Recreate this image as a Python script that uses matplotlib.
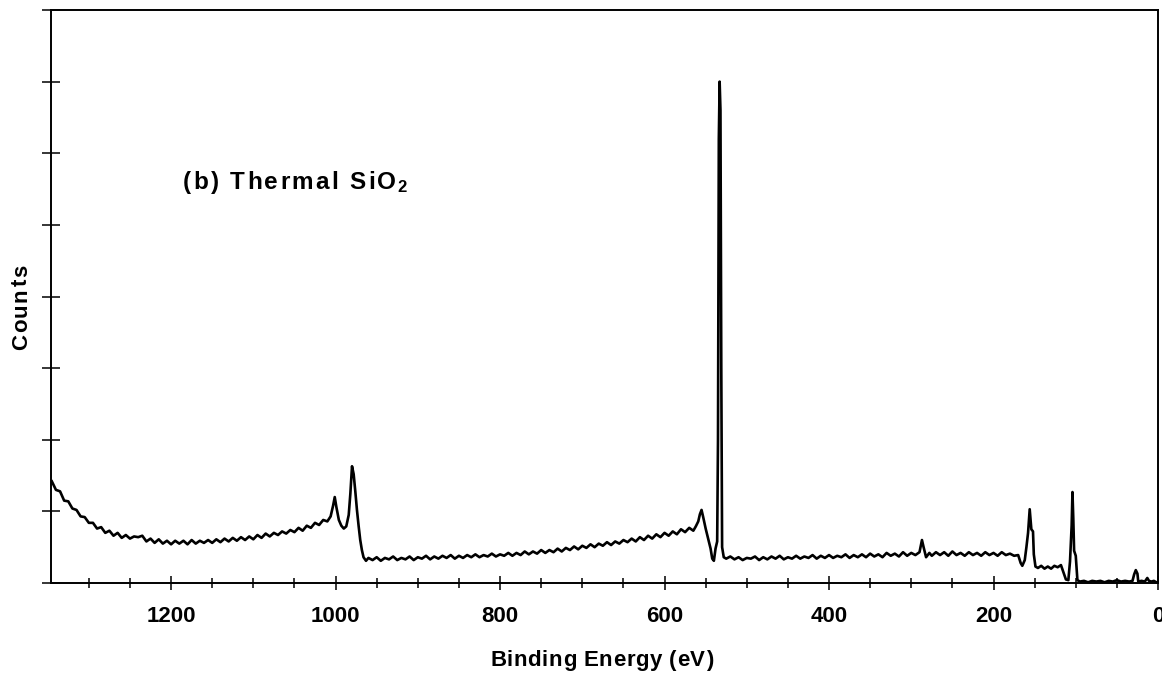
import matplotlib
matplotlib.use("Agg")
import matplotlib.pyplot as plt
from matplotlib.ticker import MultipleLocator
from matplotlib.transforms import IdentityTransform

# XPS survey spectrum of thermal SiO2
# (counts in arbitrary units, 10 units per y tick)
binding_energy = [
    1345, 1340, 1335, 1330, 1325, 1320, 1315, 1310, 1305, 1300,
    1295, 1290, 1285, 1280, 1275, 1270, 1265, 1260, 1255, 1250,
    1245, 1240, 1235, 1230, 1225, 1220, 1215, 1210, 1205, 1200,
    1195, 1190, 1185, 1180, 1175, 1170, 1165, 1160, 1155, 1150,
    1145, 1140, 1135, 1130, 1125, 1120, 1115, 1110, 1105, 1100,
    1095, 1090, 1085, 1080, 1075, 1070, 1065, 1060, 1055, 1050,
    1045, 1040, 1035, 1030, 1025, 1020, 1015,
    1010, 1006, 1003, 1001, 999, 996, 993, 990, 987, 984,
    982, 980, 978, 976, 974, 972, 970, 968, 966, 963, 960,
    955, 950, 945, 940, 935, 930, 925, 920, 915, 910,
    905, 900, 895, 890, 885, 880, 875, 870, 865, 860,
    855, 850, 845, 840, 835, 830, 825, 820, 815, 810,
    805, 800, 795, 790, 785, 780, 775, 770, 765, 760,
    755, 750, 745, 740, 735, 730, 725, 720, 715, 710,
    705, 700, 695, 690, 685, 680, 675, 670, 665, 660,
    655, 650, 645, 640, 635, 630, 625, 620, 615, 610,
    605, 600, 595, 590, 585, 580, 575, 570, 565,
    562, 559, 557, 555, 553, 550, 547, 544, 542, 540,
    538, 536, 535, 534, 533, 532, 531, 530, 528, 525,
    520, 515, 510, 505, 500, 495, 490, 485, 480, 475,
    470, 465, 460, 455, 450, 445, 440, 435, 430, 425,
    420, 415, 410, 405, 400, 395, 390, 385, 380, 375,
    370, 365, 360, 355, 350, 345, 340, 335, 330, 325,
    320, 315, 310, 305, 300, 295, 290, 287, 285, 282,
    278, 275, 270, 265, 260, 255, 250, 245, 240, 235,
    230, 225, 220, 215, 210, 205, 200, 195, 190, 185,
    180, 175, 170, 167, 165, 162, 160, 158, 156, 154,
    152, 151, 149, 146, 142, 138, 134, 130, 126, 122,
    118, 115, 112, 109, 107, 105, 104, 103, 102, 100,
    99, 98, 95, 90, 85, 80, 75, 70, 65, 60,
    55, 50, 45, 40, 35, 31, 29, 27, 25, 24,
    20, 16, 13, 11, 8, 5, 2, 0,
]
counts = [
    14.2, 13.0, 12.8, 11.5, 11.4, 10.4, 10.2, 9.3, 9.2, 8.4,
    8.4, 7.6, 7.8, 7.0, 7.3, 6.6, 7.0, 6.3, 6.7, 6.2,
    6.5, 6.4, 6.6, 5.8, 6.2, 5.6, 6.1, 5.5, 5.9, 5.4,
    5.9, 5.5, 5.9, 5.4, 6.0, 5.5, 5.9, 5.6, 6.0, 5.6,
    6.1, 5.7, 6.2, 5.8, 6.3, 5.9, 6.4, 6.0, 6.5, 6.1,
    6.7, 6.3, 6.9, 6.5, 7.0, 6.7, 7.2, 6.9, 7.4, 7.1,
    7.7, 7.3, 8.0, 7.7, 8.4, 8.1, 8.8,
    8.6, 9.3, 10.8, 12.0, 10.6, 8.8, 8.0, 7.6, 7.9, 9.5,
    12.5, 16.3, 15.2, 12.8, 10.2, 8.0, 6.0, 4.6, 3.6, 3.1, 3.5,
    3.2, 3.6, 3.1, 3.5, 3.3, 3.7, 3.2, 3.5, 3.3, 3.7,
    3.2, 3.6, 3.4, 3.8, 3.3, 3.7, 3.4, 3.8, 3.5, 3.9,
    3.4, 3.8, 3.5, 3.9, 3.6, 4.0, 3.6, 3.9, 3.7, 4.1,
    3.7, 4.0, 3.8, 4.2, 3.8, 4.2, 3.9, 4.4, 4.0, 4.4,
    4.1, 4.6, 4.2, 4.6, 4.3, 4.8, 4.4, 4.9, 4.6, 5.1,
    4.7, 5.2, 4.9, 5.4, 5.0, 5.5, 5.2, 5.7, 5.3, 5.8,
    5.5, 6.0, 5.7, 6.2, 5.8, 6.4, 6.0, 6.6, 6.2, 6.8,
    6.4, 7.0, 6.6, 7.2, 6.8, 7.5, 7.1, 7.7, 7.3,
    7.9, 8.6, 9.6, 10.2, 9.2, 7.6, 6.2, 4.8, 3.4, 3.1,
    4.8, 5.8, 20.0, 62.0, 70.0, 66.0, 30.0, 5.0, 3.6, 3.4,
    3.7, 3.3, 3.6, 3.2, 3.5, 3.4, 3.7, 3.2, 3.6, 3.3,
    3.7, 3.4, 3.8, 3.3, 3.6, 3.4, 3.8, 3.4, 3.7, 3.5,
    3.9, 3.4, 3.8, 3.5, 3.9, 3.5, 3.8, 3.6, 4.0, 3.5,
    3.9, 3.6, 4.0, 3.6, 4.1, 3.7, 4.0, 3.6, 4.2, 3.8,
    4.1, 3.7, 4.3, 3.8, 4.2, 3.9, 4.3, 6.0, 5.0, 3.6,
    4.2, 3.8, 4.3, 3.9, 4.3, 3.8, 4.4, 3.9, 4.2, 3.8,
    4.3, 3.9, 4.2, 3.8, 4.3, 3.9, 4.2, 3.8, 4.3, 3.9,
    4.1, 3.8, 3.9, 2.8, 2.4, 3.2, 5.0, 7.0, 10.3, 7.5,
    7.2, 4.0, 2.3, 2.1, 2.4, 2.0, 2.3, 2.0, 2.4, 2.2,
    2.5, 1.5, 0.5, 0.4, 3.0, 8.0, 12.7, 9.0, 4.5, 3.8,
    2.0, 0.4, 0.2, 0.3, 0.1, 0.3, 0.2, 0.3, 0.1, 0.3,
    0.2, 0.4, 0.2, 0.3, 0.2, 0.3, 1.2, 1.8, 1.3, 0.2,
    0.3, 0.2, 0.7, 0.3, 0.2, 0.3, 0.1, 0.1,
]

x_ticks = [0, 200, 400, 600, 800, 1000, 1200]
x_tick_labels = ["0", "200", "400", "600", "800", "1000", "1200"]

plt.rcParams['font.family'] = ['Liberation Sans', 'DejaVu Sans']
plt.rcParams['font.weight'] = 'bold'

W, H = 1162, 674
fig = plt.figure(figsize=(W / 100, H / 100), dpi=100)
ax = fig.add_axes([51/W, 1 - 583/H, 1107/W, 573/H])


# the original labels are letter-spaced, so lay them out one char at a time
def tracked_text(x0, y0, s, target, size, vertical=False):
    r = fig.canvas.get_renderer()

    def width(txt):
        t = fig.text(0, 0, txt + '|', fontsize=size, fontweight='bold')
        b = fig.text(0, 0, '|', fontsize=size, fontweight='bold')
        w = t.get_window_extent(r).width - b.get_window_extent(r).width
        t.remove()
        b.remove()
        return w

    track = (target - width(s)) / (len(s) - 1)
    for i, ch in enumerate(s):
        off = width(s[:i]) + i * track
        if vertical:
            fig.text(x0, H - y0 + off, ch, fontsize=size, fontweight='bold',
                     rotation=90, rotation_mode='anchor', ha='left', va='baseline',
                     transform=IdentityTransform())
        else:
            fig.text(x0 + off, H - y0, ch, fontsize=size, fontweight='bold',
                     ha='left', va='baseline', transform=IdentityTransform())


ax.plot(binding_energy, counts, color='black', lw=1.9)

ax.set_xlim(1346, 0)
ax.set_ylim(0, 80)
ax.set_xticks(x_ticks)
ax.set_xticklabels(x_tick_labels, fontsize=16, fontweight='bold')
ax.xaxis.set_minor_locator(MultipleLocator(50))
ax.yaxis.set_major_locator(MultipleLocator(10))
ax.set_yticklabels([])

ax.tick_params(axis='x', which='major', direction='inout', length=9.5, width=1.1, pad=12)
ax.tick_params(axis='x', which='minor', direction='inout', length=6.5, width=1.1)
ax.tick_params(axis='y', which='major', direction='inout', length=13, width=1.1)
for sp in ax.spines.values():
    sp.set_linewidth(1.4)

# axis titles and panel label (pixel positions, y measured from top)
tracked_text(490, 666, 'Binding Energy (eV)', 223, 16)
tracked_text(27, 350, 'Counts', 85, 16, vertical=True)
tracked_text(183, 189, '(b) Thermal SiO', 213, 17.5)
fig.text(397, H - 192, '2', fontsize=12, fontweight='bold',
         ha='left', va='baseline', transform=IdentityTransform())

plt.savefig('out.png', dpi=100)
